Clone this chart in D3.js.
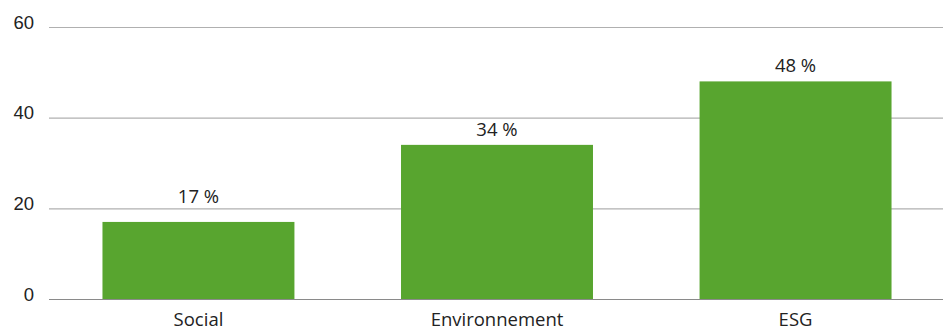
<!DOCTYPE html>
<html><head><meta charset="utf-8">
<script src="https://cdn.jsdelivr.net/npm/d3@7"></script>
<style>body{margin:0;background:#fff}svg{display:block;font-family:"Open Sans",sans-serif}</style>
</head><body><svg id="c" width="943" height="333"></svg>
<script>
const categories = ["Social", "Environnement", "ESG"];
const values = [17, 34, 48];
const yTicks = [0, 20, 40, 60];
const valueLabels = ["17 %", "34 %", "48 %"];

const svg = d3.select("#c");
const fs = 18.5;
const mLeft = 49, mRight = 943, mTop = 27, mBottom = 299;
const x = d3.scaleBand().domain(categories).range([55, 939]).paddingInner(0.357).paddingOuter(0.159);
const y = d3.scaleLinear().domain([0, 60]).range([mBottom, mTop]);

const ga = svg.append("g").attr("transform", `translate(${mLeft},0)`)
  .call(d3.axisLeft(y).tickValues(yTicks).tickSize(-(mRight - mLeft)).tickPadding(15));
ga.select(".domain").remove();
ga.selectAll(".tick line").attr("stroke", d => d === 0 ? "#8a8a8a" : "#b0b0b0").attr("stroke-width", 1.2);
ga.selectAll(".tick text").attr("font-size", fs).attr("fill", "#222").attr("dy", "0.06em");

svg.append("g").selectAll("rect").data(values).join("rect")
  .attr("x", (d, i) => x(categories[i])).attr("width", x.bandwidth())
  .attr("y", d => y(d)).attr("height", d => y(0) - y(d)).attr("fill", "#58a52f");

// label baseline: just above bar, but moved above a gridline it would overlap
function labelY(d) {
  let b = y(d) - 9;
  yTicks.forEach(t => {
    const g = y(t);
    if (g < b + 2 && g > b - 15) b = g - 5;
  });
  return b;
}
svg.append("g").selectAll("text").data(values).join("text")
  .attr("x", (d, i) => x(categories[i]) + x.bandwidth() / 2).attr("y", d => labelY(d))
  .attr("text-anchor", "middle").attr("font-size", fs).attr("fill", "#222")
  .text((d, i) => valueLabels[i]);

const gx = svg.append("g").attr("transform", `translate(0,${mBottom})`)
  .call(d3.axisBottom(x).tickSize(0).tickPadding(14));
gx.select(".domain").remove();
gx.selectAll(".tick text").attr("font-size", fs).attr("fill", "#222").attr("font-family", "Open Sans, sans-serif");
</script></body></html>
